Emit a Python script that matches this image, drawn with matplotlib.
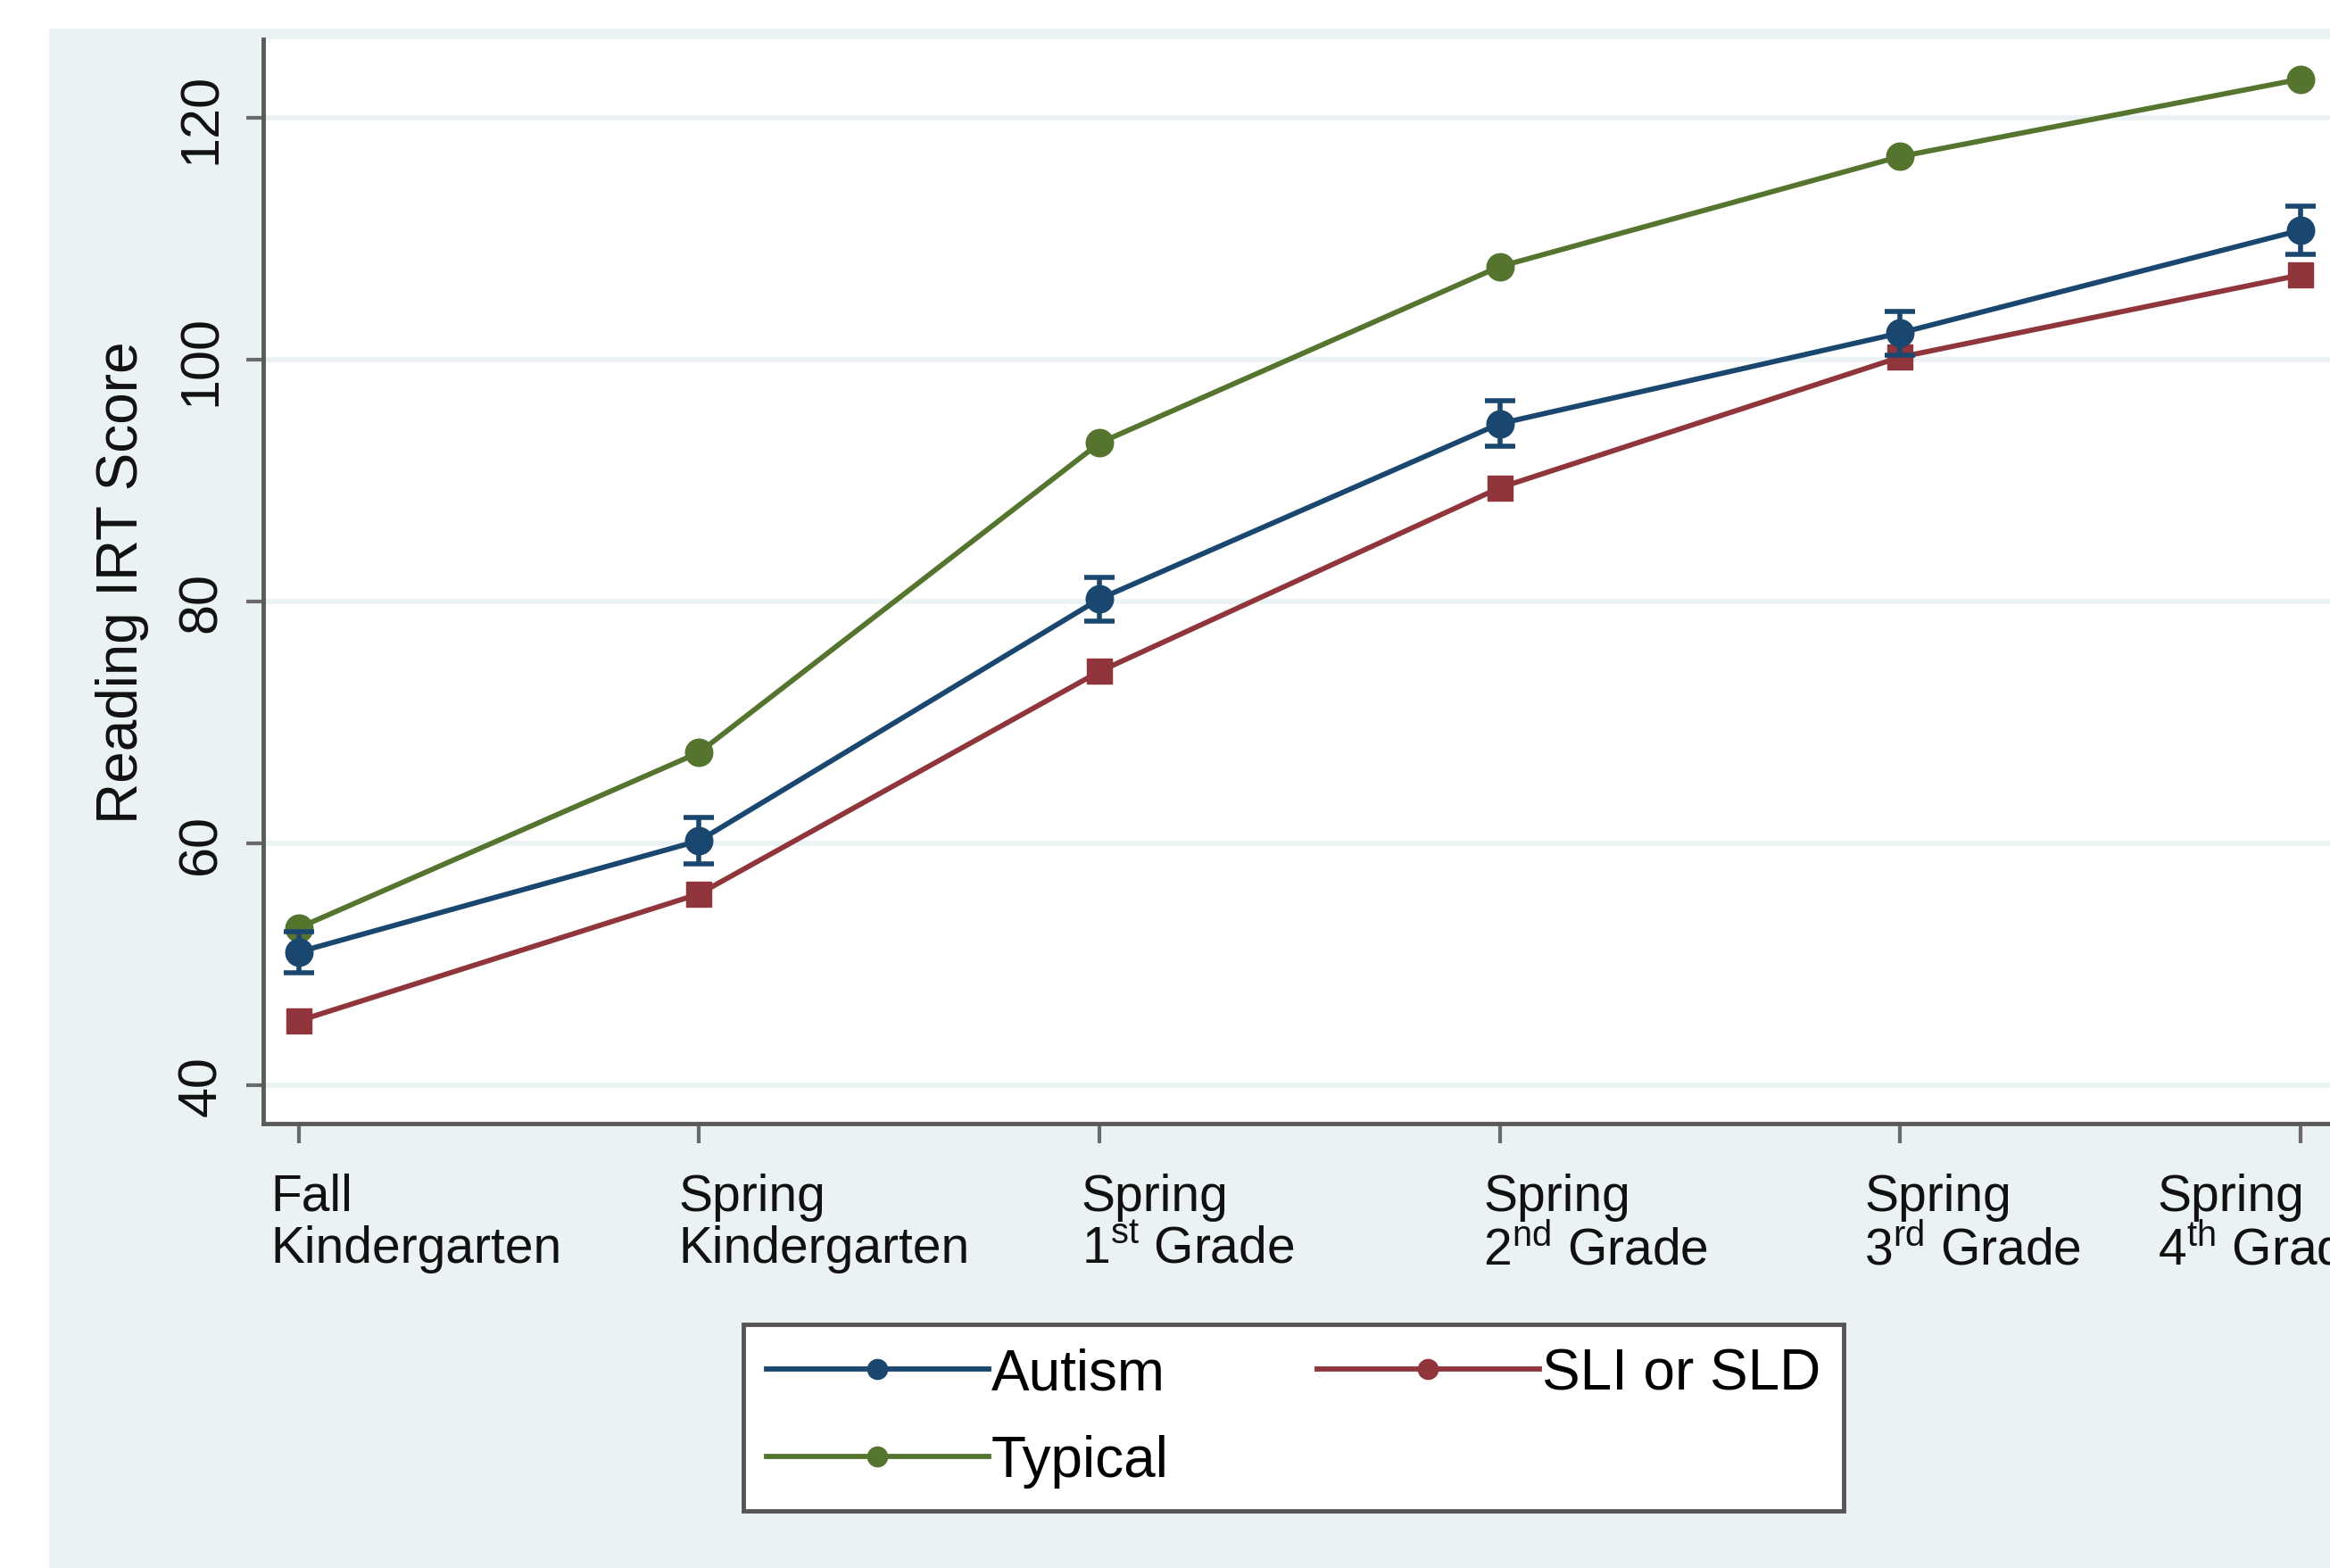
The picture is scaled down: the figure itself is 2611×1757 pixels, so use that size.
import matplotlib
matplotlib.use("Agg")
import matplotlib.pyplot as plt
from matplotlib.patches import Rectangle

plt.rcParams['font.family'] = ['Liberation Sans', 'DejaVu Sans']
plt.rcParams['mathtext.fontset'] = 'custom'
plt.rcParams['mathtext.rm'] = 'Liberation Sans'

# ---- data ----
waves = ["Fall\nKindergarten", "Spring\nKindergarten", "Spring\n1$^{\\mathrm{st}}$ Grade",
         "Spring\n2$^{\\mathrm{nd}}$ Grade", "Spring\n3$^{\\mathrm{rd}}$ Grade", "Spring\n4$^{\\mathrm{th}}$ Grade"]
autism = [51.0, 60.2, 80.2, 94.7, 102.2, 110.7]
autism_err = [1.7, 1.9, 1.8, 1.9, 1.8, 2.0]
sli = [45.3, 55.8, 74.2, 89.4, 100.2, 107.0]
typical = [53.0, 67.5, 93.1, 107.7, 116.8, 123.2]
yticks = [40, 60, 80, 100, 120]

c_aut = "#1a476f"
c_sli = "#90353b"
c_typ = "#55752f"
bg = "#eaf2f3"

fig = plt.figure(figsize=(26.11, 17.58), dpi=100, facecolor="white")
fig.patches.append(Rectangle((55/2611, 0), 1, 1 - 33/1758, transform=fig.transFigure,
                             facecolor=bg, edgecolor="none", zorder=-10))

ax = fig.add_axes([295/2611, 1 - 1260/1758, 1 - 295/2611 + 0.001, (1260 - 45)/1758])
ax.set_facecolor("white")
x = list(range(len(waves)))

lw = 4.2
ms = 22
ax.plot(x, typical, color=c_typ, lw=lw, marker='o', ms=ms, zorder=3)
ax.plot(x, sli, color=c_sli, lw=lw, marker='s', ms=ms - 2, zorder=3)
ax.errorbar(x, autism, yerr=autism_err, color=c_aut, lw=lw, marker='o', ms=ms,
            capsize=12, capthick=4, elinewidth=4, zorder=4)

ax.set_xlim(-0.089, 5.08)
ax.set_ylim(36.8, 126.5)
ax.set_yticks(yticks)
ax.set_yticklabels([str(v) for v in yticks], rotation=90, va='center', fontsize=44)
for v in yticks:
    ax.axhline(v, color=bg, lw=4, zorder=1)

ax.set_xticks(x)
ax.set_xticklabels([])
offsets = [-0.07, -0.052, -0.045, -0.041, -0.089, -0.357]
for xi, lab, off in zip(x, waves, offsets):
    ax.text(xi + off, -0.045, lab, transform=ax.get_xaxis_transform(), ha='left', va='top',
            fontsize=41, linespacing=1.1, color="#111111")

for s in ['top', 'right']:
    ax.spines[s].set_visible(False)
for s in ['left', 'bottom']:
    ax.spines[s].set_color("#5a5a5a")
    ax.spines[s].set_linewidth(3.5)
ax.tick_params(axis='y', length=14, width=3, color="#6a6a6a", pad=15, labelcolor="#111111")
ax.tick_params(axis='x', length=16, width=3, color="#6a6a6a")
ax.set_ylabel("Reading IRT Score", fontsize=46, labelpad=22, color="#111111")

h_aut, = ax.plot([], [], color=c_aut, lw=lw, marker='o', ms=16)
h_typ, = ax.plot([], [], color=c_typ, lw=lw, marker='o', ms=16)
h_sli, = ax.plot([], [], color=c_sli, lw=lw, marker='o', ms=16)
leg = fig.legend([h_aut, h_typ, h_sli], ["Autism", "Typical", "SLI or SLD"], ncol=2,
                 loc='lower left', bbox_to_anchor=(833/2611, 1 - 1694/1758),
                 fontsize=46, frameon=True, fancybox=False, handlelength=3.9,
                 handletextpad=0.05, columnspacing=2.6, borderpad=0.4, labelspacing=0.6,
                 borderaxespad=0, framealpha=1)
leg._legend_box.sep = 0
leg.get_frame().set_edgecolor("#555555")
leg.get_frame().set_facecolor("white")
leg.get_frame().set_linewidth(3.5)

fig.savefig("out.png", dpi=100, facecolor="white")
